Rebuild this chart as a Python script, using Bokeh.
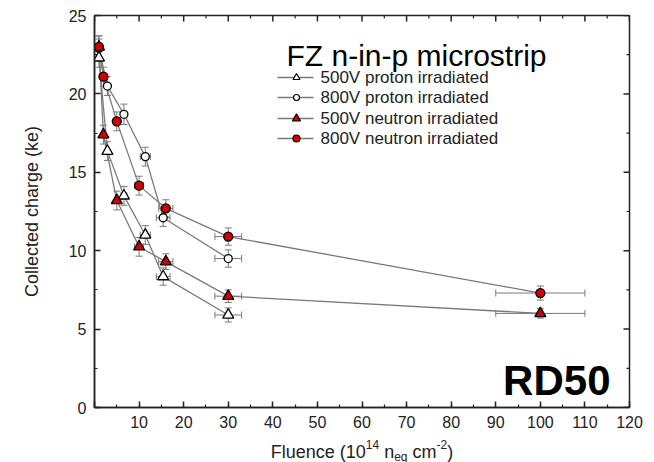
from bokeh.plotting import figure
from bokeh.layouts import column
from bokeh.models import (ColumnDataSource, Whisker, TeeHead, Label,
                          Range1d, SingleIntervalTicker)
from bokeh.core.properties import value
from bokeh.embed import file_html
from bokeh.resources import INLINE

# ---------------- data ----------------
x_p500 = [1, 2.9, 6.6, 11.4, 15.4, 30]
y_p500 = [22.3, 16.35, 13.5, 11.0, 8.35, 5.9]
ey_p500 = [0.6, 0.6, 0.6, 0.6, 0.55, 0.45]

x_p800 = [1, 2.9, 6.6, 11.4, 15.4, 30]
y_p800 = [22.9, 20.5, 18.7, 16.0, 12.1, 9.5]
ey_p800 = [0.6, 0.6, 0.65, 0.6, 0.55, 0.55]

x_n500 = [1, 2, 5, 10, 16, 30, 100]
y_n500 = [23.0, 17.4, 13.2, 10.25, 9.3, 7.1, 6.0]
ey_n500 = [0.7, 0.6, 0.6, 0.6, 0.5, 0.4, 0.3]

x_n800 = [1, 2, 5, 10, 16, 30, 100]
y_n800 = [23.0, 21.1, 18.25, 14.15, 12.7, 10.9, 7.3]
ey_n800 = [0.7, 0.6, 0.6, 0.6, 0.55, 0.55, 0.45]

x_rel_err = 0.10  # horizontal error bars, fraction of fluence

labels = ["500V proton irradiated", "800V proton irradiated",
          "500V neutron irradiated", "800V neutron irradiated"]

x_major_ticks = list(range(0, 121, 10))
x_minor_ticks = list(range(5, 120, 10))
y_major_ticks = [0, 5, 10, 15, 20, 25]
y_minor_ticks = [2.5, 7.5, 12.5, 17.5, 22.5]

x_title_parts = ["Fluence (10", "14", "n", "eq", "cm", "-2", ")"]

# ---------------- style ----------------
FONT = "Liberation Sans"
RED = "#d00000"
GRAY = "#7a7a7a"
AXC = "#222222"
X0, X1, Y0, Y1 = 0, 120, 0, 25
W, H = 654, 462
MAIN_H = 436
FL, FR, FT, FB = 94, 629, 15, 407  # frame edges in pixels
PXX = (FR - FL) / (X1 - X0)
PXY = (FB - FT) / (Y1 - Y0)


def dx(px):
    return X0 + (px - FL) / PXX


def dy(py):
    return Y0 + (FB - py) / PXY


p = figure(width=W, height=MAIN_H, output_backend="svg", toolbar_location=None,
           x_range=Range1d(X0, X1), y_range=Range1d(Y0, Y1),
           min_border_left=FL, min_border_right=W - FR,
           min_border_top=FT, min_border_bottom=MAIN_H - FB)
p.xgrid.visible = False
p.ygrid.visible = False
p.outline_line_color = AXC
p.outline_line_width = 1.5
p.background_fill_color = "white"
p.border_fill_color = "white"

for ax in (p.xaxis[0], p.yaxis[0]):
    ax.major_tick_in = 6
    ax.major_tick_out = 0
    ax.minor_tick_in = 3
    ax.minor_tick_out = 0
    ax.axis_line_color = AXC
    ax.axis_line_width = 1.5
    ax.major_tick_line_color = AXC
    ax.major_tick_line_width = 1.5
    ax.minor_tick_line_color = AXC
    ax.minor_tick_line_width = 1.2
    ax.major_label_text_font = FONT
    ax.major_label_text_font_size = "16px"
    ax.major_label_text_color = AXC
    ax.major_label_standoff = 8

p.xaxis.ticker = SingleIntervalTicker(interval=10, num_minor_ticks=2)
p.yaxis.ticker = SingleIntervalTicker(interval=5, num_minor_ticks=2)
p.xaxis.major_label_overrides = {0: ""}
p.yaxis.axis_label = "Collected charge (ke)"
p.yaxis.axis_label_text_font = FONT
p.yaxis.axis_label_text_font_size = "18px"
p.yaxis.axis_label_text_font_style = "normal"
p.yaxis.axis_label_text_color = AXC
p.yaxis.axis_label_standoff = 24

# mirrored inward ticks on top and right edges
p.segment(x0=x_major_ticks, y0=[Y1] * len(x_major_ticks), x1=x_major_ticks,
          y1=[Y1 - 6 / PXY] * len(x_major_ticks), line_color=AXC, line_width=1.5)
p.segment(x0=x_minor_ticks, y0=[Y1] * len(x_minor_ticks), x1=x_minor_ticks,
          y1=[Y1 - 3 / PXY] * len(x_minor_ticks), line_color=AXC, line_width=1.2)
p.segment(x0=[X1] * len(y_major_ticks), y0=y_major_ticks, x1=[X1 - 6 / PXX] * len(y_major_ticks),
          y1=y_major_ticks, line_color=AXC, line_width=1.5)
p.segment(x0=[X1] * len(y_minor_ticks), y0=y_minor_ticks, x1=[X1 - 3 / PXX] * len(y_minor_ticks),
          y1=y_minor_ticks, line_color=AXC, line_width=1.2)

series = [
    (x_p500, y_p500, ey_p500, "triangle", "white", 11, 7),
    (x_p800, y_p800, ey_p800, "circle", "white", 8, 6),
    (x_n500, y_n500, ey_n500, "triangle", RED, 11, 8),
    (x_n800, y_n800, ey_n800, "circle", RED, 9, 7),
]

sources = []
for xs, ys, eys, mk, fill, size, lsize in series:
    src = ColumnDataSource(dict(
        x=xs, y=ys,
        ylo=[v - e for v, e in zip(ys, eys)],
        yhi=[v + e for v, e in zip(ys, eys)],
        xlo=[v * (1 - x_rel_err) for v in xs],
        xhi=[v * (1 + x_rel_err) for v in xs],
    ))
    sources.append(src)
    p.line("x", "y", source=src, line_color=GRAY, line_width=1.3)

for src in sources:
    for base, lo, hi, dim in (("x", "ylo", "yhi", "height"), ("y", "xlo", "xhi", "width")):
        w = Whisker(source=src, base=base, lower=lo, upper=hi, dimension=dim,
                    line_color=GRAY, line_width=1,
                    upper_head=TeeHead(size=7, line_color=GRAY, line_width=1),
                    lower_head=TeeHead(size=7, line_color=GRAY, line_width=1))
        p.add_layout(w)

for src, (xs, ys, eys, mk, fill, size, lsize) in zip(sources, series):
    p.scatter("x", "y", source=src, marker=mk, size=size, fill_color=fill,
              line_color="black", line_width=1.3)

# ---------------- legend ----------------
legend_rows_py = [77, 97, 118, 138]
for (xs, ys, eys, mk, fill, size, lsize), lab, py in zip(series, labels, legend_rows_py):
    p.line([dx(277), dx(313)], [dy(py), dy(py)], line_color=GRAY, line_width=1.3)
    p.scatter([dx(296)], [dy(py)], marker=mk, size=lsize, fill_color=fill,
              line_color="black", line_width=1.2)
    p.add_layout(Label(x=dx(320), y=dy(py), text=lab, text_font=FONT,
                       text_font_size="17px", text_baseline="middle",
                       text_color=AXC))

p.add_layout(Label(x=dx(286), y=dy(55), text="FZ n-in-p microstrip", text_font=FONT,
                   text_font_size="30px", text_baseline="alphabetic", text_color="black"))
p.add_layout(Label(x=dx(610), y=dy(380), text="RD50", text_font=FONT,
                   text_font_size="42px", text_font_style="bold", text_align="right",
                   text_baseline="alphabetic", text_color="black"))

# ---------------- x axis title strip (super/subscripts) ----------------
# (the column layout aligns this strip's frame with the main frame, so the
#  strip uses the same x data range as the chart)
SH = H - MAIN_H
q = figure(width=W, height=SH, output_backend="svg", toolbar_location=None,
           x_range=Range1d(X0, X1), y_range=Range1d(SH, 0),
           min_border=0, x_axis_location=None, y_axis_location=None)
q.xgrid.visible = False
q.ygrid.visible = False
q.outline_line_color = None
q.background_fill_color = "white"
q.border_fill_color = "white"

base_y = 451 - MAIN_H
sizes = [18, 12, 18, 12, 18, 12, 18]
offsets = [0, -7, 0, 5, 0, -7, 0]
# advance widths (em) of each part, plus a following space where needed
advance_em = [5.28, 1.112 + 0.278 * 18 / 12, 0.556, 1.112 + 0.278 * 18 / 12, 1.333, 0.889, 0.333]
total = sum(a * s for a, s in zip(advance_em, sizes))
cur = (FL + FR) / 2 - total / 2
for t, fs, off, adv in zip(x_title_parts, sizes, offsets, advance_em):
    q.text(x=[dx(cur)], y=[base_y + off], text=[t], text_font=value(FONT),
           text_font_size=f"{fs}px", text_baseline="alphabetic", text_color=AXC)
    cur += adv * fs

layout = column(p, q, spacing=0)
open("out.html", "w").write(file_html(layout, INLINE))
